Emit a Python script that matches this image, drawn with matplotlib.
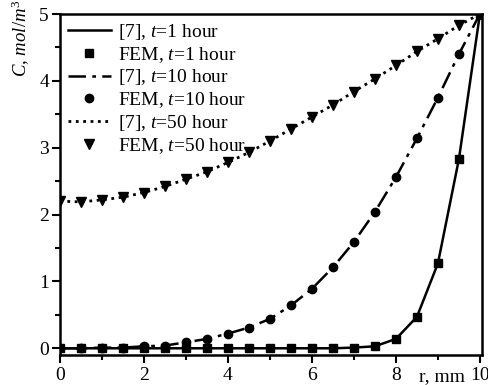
import matplotlib
matplotlib.use("Agg")
import matplotlib.pyplot as plt
from matplotlib.ticker import MultipleLocator

plt.rcParams['font.family'] = ['Liberation Serif', 'DejaVu Serif']
plt.rcParams['mathtext.fontset'] = 'custom'
plt.rcParams['mathtext.rm'] = 'Liberation Serif'
plt.rcParams['mathtext.it'] = 'Liberation Serif:italic'

r = [0, 0.5, 1, 1.5, 2, 2.5, 3, 3.5, 4, 4.5, 5, 5.5, 6, 6.5, 7, 7.5, 8, 8.5, 9, 9.5, 10]
c_t1 = [0, 0, 0, 0, 0, 0, 0, 0, 0, 0, 0, 0, 0, 0, 0.01, 0.03, 0.14, 0.47, 1.27, 2.83, 5.0]
c_t10 = [0, 0, 0.01, 0.01, 0.03, 0.04, 0.09, 0.14, 0.22, 0.31, 0.44, 0.64, 0.89, 1.21,
         1.59, 2.04, 2.56, 3.14, 3.75, 4.40, 5.0]
c_t50 = [2.2, 2.19, 2.22, 2.26, 2.33, 2.42, 2.53, 2.64, 2.78, 2.93, 3.10, 3.28, 3.46, 3.64,
         3.84, 4.03, 4.23, 4.44, 4.63, 4.83, 5.0]

labels = ["[7], $t$=1 hour", "FEM, $t$=1 hour",
          "[7], $t$=10 hour", "FEM, $t$=10 hour",
          "[7], $t$=50 hour", "FEM, $t$=50 hour"]

fig = plt.figure(figsize=(4.89, 3.85), dpi=100)
ax = fig.add_axes([0.1227, 0.078, 0.8630, 0.8856])

ax.plot(r, c_t1, '-', color='black', lw=1.8, label=labels[0])
ax.plot(r, c_t1, 's', color='black', ms=5.2, ls='none', label=labels[1])
ax.plot(r, c_t10, color='black', lw=1.8, dashes=(7, 2.5, 1.5, 2.5), label=labels[2])
ax.plot(r, c_t10, 'o', color='black', ms=6, ls='none', label=labels[3])
ax.plot(r, c_t50, ':', color='black', lw=2.0, label=labels[4])
ax.plot(r, c_t50, 'v', color='black', ms=7, ls='none', label=labels[5])

ax.set_xlim(0, 10.05)
ax.set_ylim(-0.1, 5)
ax.xaxis.set_major_locator(MultipleLocator(2))
ax.xaxis.set_minor_locator(MultipleLocator(1))
ax.yaxis.set_major_locator(MultipleLocator(1))
ax.yaxis.set_minor_locator(MultipleLocator(0.5))
ax.tick_params(which='major', direction='out', length=6, width=1.5, labelsize=14)
ax.tick_params(axis='y', which='major', pad=2)
ax.tick_params(axis='x', which='major', pad=3)
ax.tick_params(which='minor', direction='out', length=3.5, width=1.5)
for s in ax.spines.values():
    s.set_linewidth(1.8)

ax.set_xticks([0, 2, 4, 6, 8, 10])
ax.set_xticklabels(['0', '2', '4', '6', '8', '10'])
ax.text(0.905, -0.062, 'r, mm', transform=ax.transAxes, fontsize=14,
        ha='center', va='center')
ax.set_ylabel('$C$, $mol/m^3$', fontsize=13.5)
ax.yaxis.set_label_coords(-0.066, 0.93)

ax.legend(loc='upper left', frameon=False, fontsize=14, handlelength=2.2,
          handletextpad=0.4, labelspacing=0.15, borderaxespad=0.2,
          borderpad=0.2, bbox_to_anchor=(0.0, 1.0))

fig.savefig('out.png', dpi=100)
